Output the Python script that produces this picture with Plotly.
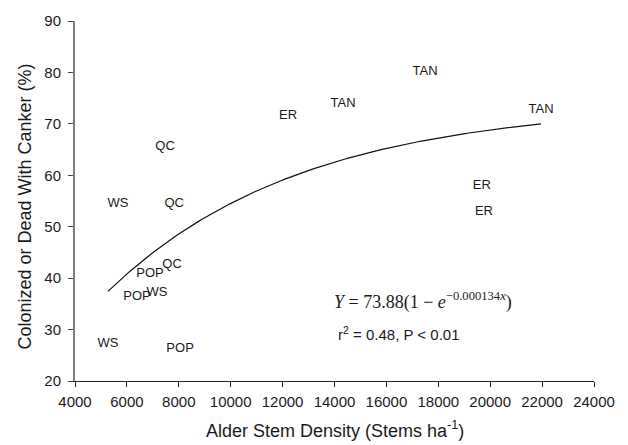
import numpy as np
import plotly.graph_objects as go

# Data
sites = ["WS", "QC", "QC", "ER", "TAN", "TAN", "TAN", "ER", "ER",
         "POP", "QC", "POP", "WS", "WS", "POP"]
density = [5660, 7470, 7820, 12210, 14330, 17490, 21960, 19680, 19760,
           6890, 7740, 6390, 7160, 5270, 8050]
percent = [54.5, 65.5, 54.5, 71.6, 73.9, 80.2, 72.7, 58.0, 53.0,
           40.9, 42.6, 36.3, 37.1, 27.3, 26.3]

# Fitted model shown on the chart: Y = 73.88(1 - exp(-0.000134 x))
fit_a = 73.88
fit_k = 0.000134
fit_x_min = 5270
fit_x_max = 21960

x_ticks = [4000, 6000, 8000, 10000, 12000, 14000, 16000, 18000, 20000, 22000, 24000]
x_tick_labels = ["4000", "6000", "8000", "10000", "12000", "14000", "16000",
                 "18000", "20000", "22000", "24000"]
y_ticks = [20, 30, 40, 50, 60, 70, 80, 90]
y_tick_labels = ["20", "30", "40", "50", "60", "70", "80", "90"]

fit_x = np.linspace(fit_x_min, fit_x_max, 200)
fit_y = fit_a * (1 - np.exp(-fit_k * fit_x))

SANS = "Liberation Sans, Arial, Helvetica, sans-serif"
SERIF = "Liberation Serif, Times New Roman, serif"

fig = go.Figure()
fig.add_trace(go.Scatter(
    x=fit_x, y=fit_y, mode="lines",
    line=dict(color="#111111", width=1.2),
    hoverinfo="skip", showlegend=False,
))
fig.add_trace(go.Scatter(
    x=density, y=percent, mode="text", text=sites,
    textposition="middle center",
    textfont=dict(family=SANS, size=13, color="#1a1a1a"),
    showlegend=False,
))

fig.update_layout(
    width=628, height=445,
    margin=dict(l=75, r=34, t=16, b=64),
    paper_bgcolor="white", plot_bgcolor="white",
    font=dict(family=SANS, color="#1a1a1a"),
    xaxis=dict(
        range=[4000, 24000], tickvals=x_ticks, ticktext=x_tick_labels,
        showgrid=False, zeroline=False,
        showline=True, linecolor="#222222", linewidth=1,
        ticks="outside", ticklen=5, tickcolor="#222222", tickwidth=1,
        tickfont=dict(family=SANS, size=15, color="#1a1a1a"),
        ticklabelstandoff=2,
    ),
    yaxis=dict(
        range=[20, 90], tickvals=y_ticks, ticktext=y_tick_labels,
        showgrid=False, zeroline=False,
        showline=True, linecolor="#808080", linewidth=2,
        ticks="outside", ticklen=5, tickcolor="#444444", tickwidth=1,
        tickfont=dict(family=SANS, size=15, color="#1a1a1a"),
        ticklabelstandoff=4,
    ),
    annotations=[
        dict(text="Alder Stem Density (Stems ha<sup>-1</sup>)",
             xref="paper", yref="paper", x=0.5, y=-0.134,
             xanchor="center", yanchor="middle", showarrow=False,
             font=dict(family=SANS, size=18, color="#1a1a1a")),
        dict(text="Colonized or Dead With Canker (%)",
             xref="paper", yref="paper", x=-0.096, y=0.485, textangle=-90,
             xanchor="center", yanchor="middle", showarrow=False,
             font=dict(family=SANS, size=18, color="#1a1a1a")),
        dict(text="<i>Y</i> = 73.88(1 − <i>e</i><sup>−0.000134<i>x</i></sup>)",
             xref="paper", yref="paper", x=(332 - 75) / 519, y=(381 - 300) / 365,
             xanchor="left", yanchor="middle", showarrow=False,
             font=dict(family=SERIF, size=18, color="#1a1a1a")),
        dict(text="r<sup>2</sup> = 0.48, P < 0.01",
             xref="paper", yref="paper", x=(336 - 75) / 519, y=(381 - 333) / 365,
             xanchor="left", yanchor="middle", showarrow=False,
             font=dict(family=SANS, size=15, color="#1a1a1a")),
    ],
)

fig.write_html("out.html")
